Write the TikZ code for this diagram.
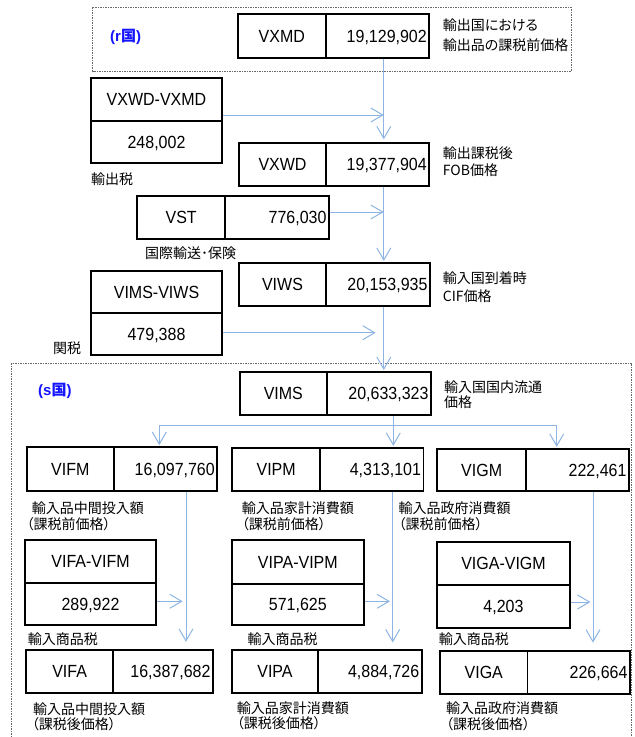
\documentclass[tikz,border=0pt]{standalone}
\usepackage{fontspec}
\setmainfont{Liberation Sans}
\newfontfamily\cjk[RawFeature=+palt]{Noto Sans CJK JP}
\usetikzlibrary{arrows.meta}
\definecolor{arrowblue}{RGB}{141,180,226}
\definecolor{dashgray}{RGB}{105,105,105}
\definecolor{labelblue}{RGB}{20,20,255}
\newcommand{\tall}[1]{\scalebox{1}[1.1]{#1}}
% horizontal pair: name, x1, y1, xdiv, x2, y2, label, value
\newcommand{\hpair}[8]{%
  \pgfmathsetmacro\hpWl{#4-#2}\pgfmathsetmacro\hpWv{#5-#4}\pgfmathsetmacro\hpH{#6-#3}%
  \pgfmathsetmacro\hpCl{(#2+#4)/2}\pgfmathsetmacro\hpCv{(#4+#5)/2}\pgfmathsetmacro\hpCy{(#3+#6)/2}%
  \pgfmathsetmacro\hpWt{\hpWv-5}%
  \node[cell, minimum width=\hpWl pt, minimum height=\hpH pt] (#1L) at (\hpCl,\hpCy) {\tall{#7}};
  \node[cell, minimum width=\hpWv pt, minimum height=\hpH pt] (#1V) at (\hpCv,\hpCy) {\makebox[\hpWt pt][r]{\tall{#8}}};
}
% vertical pair: name, x1, y1, ydiv, x2, y2, top, bottom
\newcommand{\vpair}[8]{%
  \pgfmathsetmacro\vpW{#5-#2}\pgfmathsetmacro\vpHt{#4-#3}\pgfmathsetmacro\vpHb{#6-#4}%
  \pgfmathsetmacro\vpCx{(#2+#5)/2}\pgfmathsetmacro\vpCt{(#3+#4)/2}\pgfmathsetmacro\vpCb{(#4+#6)/2}%
  \node[cell, minimum width=\vpW pt, minimum height=\vpHt pt] (#1T) at (\vpCx,\vpCt) {\tall{#7}};
  \node[cell, minimum width=\vpW pt, minimum height=\vpHb pt] (#1B) at (\vpCx,\vpCb) {\tall{#8}};
}
\begin{document}
\begin{tikzpicture}[x=1pt,y=-1pt,
  cell/.style={draw=black, line width=1.8pt, inner sep=0pt, font=\fontsize{16}{18}\selectfont, text height=12.6pt, text depth=0pt},
  lbl/.style={anchor=west, inner sep=0pt, font=\cjk\fontsize{14}{16}\selectfont},
  country/.style={anchor=west, inner sep=0pt, text=labelblue, font=\bfseries\fontsize{15}{17}\selectfont},
  arr/.style={draw=arrowblue, line width=1pt, -{Straight Barb[length=12pt,width=14pt]}},
  plainline/.style={draw=arrowblue, line width=1pt},
  dashbox/.style={draw=dashgray, line width=0.8pt, dash pattern=on 1.5pt off 1pt}]
\useasboundingbox (0,0) rectangle (635,737);

% country frames
\draw[dashbox] (92.7,7.3) rectangle (571,71);
\draw[dashbox] (11.7,737) -- (11.7,363) -- (631.5,363) -- (631.5,737);
\node[country] (rcountry) at (110,37) {(r{\cjk 国})};
\node[country] (scountry) at (38,390.7) {(s{\cjk 国})};

% value boxes
\hpair{vxmd}{237.7}{14.3}{326}{429.3}{57.7}{VXMD}{19,129,902}
\hpair{vxwd}{239}{142.7}{326}{429.3}{185.7}{VXWD}{19,377,904}
\hpair{vst}{137.3}{195.7}{225}{329}{239}{VST}{776,030}
\hpair{viws}{239}{263.3}{326}{430}{306}{VIWS}{20,153,935}
\hpair{vims}{240}{371.7}{326.7}{431}{415}{VIMS}{20,633,323}
\hpair{vifm}{26.7}{447.3}{114}{217.3}{491}{VIFM}{16,097,760}
\hpair{vipm}{232.3}{448.3}{320}{423.5}{491}{VIPM}{4,313,101}
\hpair{vigm}{437.3}{449}{526}{629}{491}{VIGM}{222,461}
\hpair{vifa}{26}{649.7}{113.3}{213}{692.7}{VIFA}{16,387,682}
\hpair{vipa}{231.7}{650.3}{318.3}{421.7}{692.7}{VIPA}{4,884,726}
\hpair{viga}{440}{651}{527.5}{630}{694}{VIGA}{226,664}

% tax boxes
\vpair{xtax}{90.7}{77.7}{120.7}{222.3}{162.7}{VXWD-VXMD}{248,002}
\vpair{mtax}{90.7}{270.7}{313.3}{222.3}{355}{VIMS-VIWS}{479,388}
\vpair{ftax}{25}{539.7}{583}{156}{624.7}{VIFA-VIFM}{289,922}
\vpair{ptax}{231.7}{540.3}{583.7}{364}{624.7}{VIPA-VIPM}{571,625}
\vpair{gtax}{437}{542}{585}{570}{628}{VIGA-VIGM}{4,203}

% labels
\node[lbl] (l1a) at (442.7,25) {輸出国における};
\node[lbl] (l1b) at (442.7,45) {輸出品の課税前価格};
\node[lbl] (l2) at (91,179) {輸出税};
\node[lbl] (l3a) at (442.7,152.7) {輸出課税後};
\node[lbl] (l3b) at (442.7,170) {FOB価格};
\node[lbl] (l4) at (145,253) {国際輸送･保険};
\node[lbl] (l5a) at (442.7,278.3) {輸入国到着時};
\node[lbl] (l5b) at (442.7,295.7) {CIF価格};
\node[lbl] (l6) at (53,347.7) {関税};
\node[lbl] (l7a) at (444,386.7) {輸入国国内流通};
\node[lbl] (l7b) at (444,402.3) {価格};
\node[lbl] (l8a) at (31.7,507.7) {輸入品中間投入額};
\node[lbl] (l8b) at (26.5,523.7) {（課税前価格）};
\node[lbl] (l9a) at (241.7,507.7) {輸入品家計消費額};
\node[lbl] (l9b) at (241.7,523.7) {（課税前価格）};
\node[lbl] (l10a) at (398.5,507.7) {輸入品政府消費額};
\node[lbl] (l10b) at (398.5,523.7) {（課税前価格）};
\node[lbl] (l11) at (27.7,638.7) {輸入商品税};
\node[lbl] (l12) at (247.3,638.7) {輸入商品税};
\node[lbl] (l13) at (438.7,638.7) {輸入商品税};
\node[lbl] (l14a) at (33,708.7) {輸入品中間投入額};
\node[lbl] (l14b) at (31.7,723.7) {（課税後価格）};
\node[lbl] (l15a) at (236.7,707.7) {輸入品家計消費額};
\node[lbl] (l15b) at (236.7,723) {（課税後価格）};
\node[lbl] (l16a) at (446,708) {輸入品政府消費額};
\node[lbl] (l16b) at (446,724) {（課税後価格）};

% connectors: r country chain
\coordinate (ca) at (383.8,0);
\draw[arr, shorten >=2.5pt] (vxmdV.south -| ca) -- (vxwdV.north -| ca);
\coordinate (t1) at (383.8,115);
\draw[arr] (t1 -| xtaxT.east) -- (t1);
\draw[arr, shorten >=1.5pt] (vxwdV.south -| ca) -- (viwsV.north -| ca);
\coordinate (t2) at (383.8,212);
\draw[arr] (t2 -| vstV.east) -- (t2);
\draw[arr, shorten >=0.8pt] (viwsV.south -| ca) -- (vimsV.north -| ca);
\coordinate (t3) at (375.7,332.7);
\draw[arr] (t3 -| mtaxB.east) -- (t3);

% branch
\coordinate (cb) at (393.3,0);
\coordinate (bl) at (159.3,425);
\coordinate (br) at (556.7,425);
\draw[arr, shorten >=1.6pt] (vimsV.south -| cb) -- (vipmV.north -| cb);
\draw[plainline] (bl) -- (br);
\draw[arr, shorten >=1.3pt] (bl) -- (vifmV.north -| bl);
\draw[arr, shorten >=1.3pt] (br) -- (vigmV.north -| br);

% s country lower chains
\coordinate (cf) at (186,0);
\draw[arr, shorten >=7pt] (vifmV.south -| cf) -- (vifaV.north -| cf);
\coordinate (tf) at (182.7,601.3);
\draw[arr] (tf -| ftaxB.east) -- (tf);
\coordinate (cp) at (392.7,0);
\draw[arr, shorten >=7pt] (vipmV.south -| cp) -- (vipaV.north -| cp);
\coordinate (tp) at (390,601.3);
\draw[arr] (tp -| ptaxB.east) -- (tp);
\coordinate (cg) at (593,0);
\draw[arr, shorten >=7.5pt] (vigmV.south -| cg) -- (vigaV.north -| cg);
\coordinate (tg) at (590.5,602);
\draw[arr] (tg -| gtaxB.east) -- (tg);
\end{tikzpicture}
\end{document}
